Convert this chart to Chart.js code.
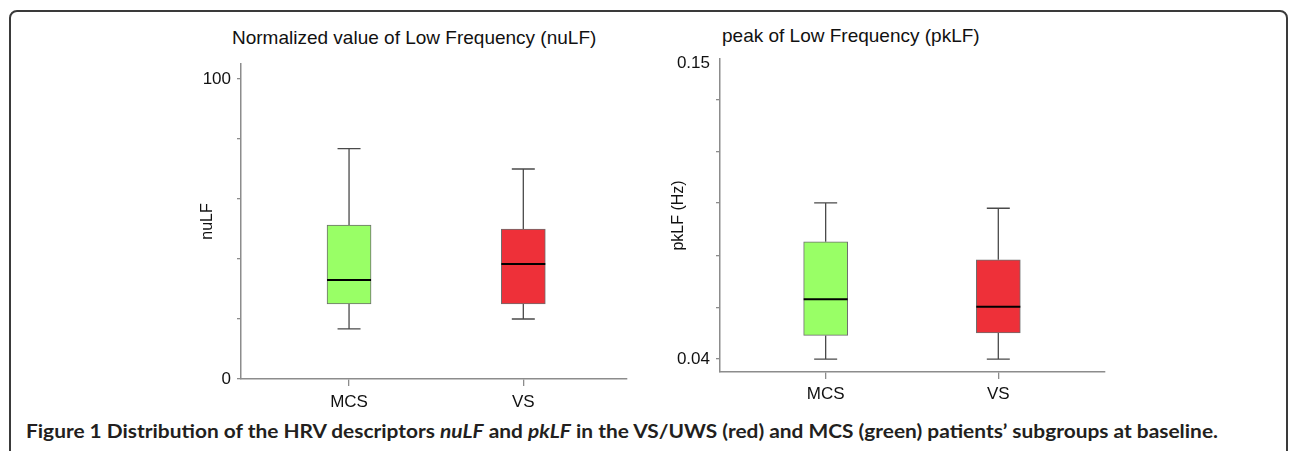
<!DOCTYPE html>
<html>
<head>
<meta charset="utf-8">
<script src="https://cdn.jsdelivr.net/npm/chart.js@4.4.1/dist/chart.umd.min.js"></script>
<style>
  body { margin: 0; width: 1290px; height: 451px; background: #fff; position: relative; overflow: hidden; font-family: "Liberation Sans", Arial, sans-serif; }
  .frame { position: absolute; left: 9px; top: 10px; width: 1279px; height: 480px; border: 2px solid #3a3a3a; border-radius: 8px; box-sizing: border-box; }
  .title { position: absolute; font-size: 19px; color: #111; white-space: nowrap; }
  .chart-box { position: absolute; width: 460px; height: 400px; }
  #caption { position: absolute; left: 26px; top: 420px; font-family: Lato, sans-serif; font-weight: bold; font-size: 18px; white-space: nowrap; transform-origin: 0 0; color: #231f20; }
</style>
</head>
<body>
<div class="frame"></div>
<div class="title" style="left:232px;top:27px;">Normalized value of Low Frequency (nuLF)</div>
<div class="title" style="left:722px;top:25px;">peak of Low Frequency (pkLF)</div>
<div class="chart-box" style="left:180px;top:20px;"><canvas id="nulfChart"></canvas></div>
<div class="chart-box" style="left:660px;top:20px;"><canvas id="pklfChart"></canvas></div>
<div id="caption">Figure 1 Distribution of the HRV descriptors <i>nuLF</i> and <i>pkLF</i> in the VS/UWS (red) and MCS (green) patients’ subgroups at baseline.</div>

<script>
const groups = ["MCS", "VS"];
const groupPos = [1, 2];
const boxColors = ["#99ff66", "#ee3039"];

// nuLF box stats
const nulfMin = [16.7, 20];
const nulfQ1 = [25, 25];
const nulfMed = [33, 38.3];
const nulfQ3 = [51.3, 50];
const nulfMax = [76.8, 70];
const nulfTicks = [0, 20, 40, 60, 80, 100];
const nulfTickLabels = ["0", "", "", "", "", "100"];

// pkLF box stats
const pklfMin = [0.04, 0.04];
const pklfQ1 = [0.0488, 0.0497];
const pklfMed = [0.0623, 0.0595];
const pklfQ3 = [0.0836, 0.0769];
const pklfMax = [0.0981, 0.0961];
const pklfTicks = [0.04, 0.0593, 0.0786, 0.098, 0.1173, 0.1366, 0.15];
const pklfTickLabels = ["0.04", "", "", "", "", "", "0.15"];

const axisColor = "#8c8c8c";
const fontFamily = "'Liberation Sans', Arial, sans-serif";

// whiskers behind the boxes, medians on top
const boxPlotPlugin = {
    id: "boxplot",
    beforeDatasetsDraw(chart) {
        const o = chart.options.plugins.boxplot;
        const { ctx, scales: { x, y } } = chart;
        ctx.save();
        ctx.strokeStyle = "#4a4a4a";
        ctx.lineWidth = 1.3;
        groupPos.forEach((p, i) => {
            const cx = x.getPixelForValue(p);
            const half = o.capWidth / 2;
            ctx.beginPath();
            ctx.moveTo(cx, y.getPixelForValue(o.max[i]));
            ctx.lineTo(cx, y.getPixelForValue(o.q3[i]));
            ctx.moveTo(cx, y.getPixelForValue(o.q1[i]));
            ctx.lineTo(cx, y.getPixelForValue(o.min[i]));
            ctx.moveTo(cx - half, y.getPixelForValue(o.max[i]));
            ctx.lineTo(cx + half, y.getPixelForValue(o.max[i]));
            ctx.moveTo(cx - half, y.getPixelForValue(o.min[i]));
            ctx.lineTo(cx + half, y.getPixelForValue(o.min[i]));
            ctx.stroke();
        });
        ctx.restore();
    },
    afterDatasetsDraw(chart) {
        const o = chart.options.plugins.boxplot;
        const { ctx, scales: { x, y } } = chart;
        ctx.save();
        ctx.strokeStyle = "#000";
        ctx.lineWidth = 2;
        groupPos.forEach((p, i) => {
            const cx = x.getPixelForValue(p);
            const my = y.getPixelForValue(o.med[i]);
            ctx.beginPath();
            ctx.moveTo(cx - o.boxWidth / 2, my);
            ctx.lineTo(cx + o.boxWidth / 2, my);
            ctx.stroke();
        });
        ctx.restore();
    }
};

function makeBoxChart(id, cfg) {
    const ctx = document.getElementById(id).getContext("2d");
    return new Chart(ctx, {
        type: "bar",
        data: {
            datasets: [{
                data: groupPos.map((p, i) => ({ x: p, y: [cfg.q1[i], cfg.q3[i]] })),
                backgroundColor: boxColors,
                borderColor: "#6e6e6e",
                borderWidth: 1,
                borderSkipped: false,
                barThickness: 44
            }]
        },
        options: {
            responsive: true,
            maintainAspectRatio: false,
            animation: false,
            layout: { padding: cfg.padding },
            plugins: {
                legend: { display: false },
                tooltip: { enabled: false },
                boxplot: {
                    min: cfg.min, q1: cfg.q1, med: cfg.med, q3: cfg.q3, max: cfg.max,
                    boxWidth: 44, capWidth: 23
                }
            },
            scales: {
                x: {
                    type: "linear",
                    offset: false,
                    min: cfg.xMin,
                    max: cfg.xMax,
                    afterBuildTicks: s => { s.ticks = groupPos.map(v => ({ value: v })); },
                    afterFit: s => { s.height = cfg.xHeight; },
                    ticks: {
                        callback: (v, i) => groups[i],
                        autoSkip: false,
                        maxRotation: 0,
                        padding: cfg.xPad,
                        color: "#111",
                        font: { family: fontFamily, size: 17 }
                    },
                    grid: { offset: false, drawOnChartArea: false, tickLength: 7, color: axisColor, lineWidth: 1.3 },
                    border: { color: axisColor, width: 1.5 }
                },
                y: {
                    type: "linear",
                    min: cfg.yMin,
                    max: cfg.yMax,
                    afterBuildTicks: s => { s.ticks = cfg.ticks.map(v => ({ value: v })); },
                    afterFit: s => { s.width = cfg.yWidth; },
                    ticks: {
                        callback: (v, i) => cfg.labels[i],
                        autoSkip: false,
                        padding: 6,
                        color: "#111",
                        font: { family: fontFamily, size: 17 }
                    },
                    grid: {
                        drawOnChartArea: false,
                        tickLength: 4,
                        lineWidth: 1.3,
                        color: axisColor,
                        tickColor: c => (c.tick && c.tick.value === 0.15) ? "rgba(0,0,0,0)" : axisColor
                    },
                    border: { color: axisColor, width: 1.5 },
                    title: {
                        display: true,
                        text: cfg.yTitle,
                        color: "#111",
                        font: { family: fontFamily, size: 16 },
                        padding: { top: cfg.titlePad, bottom: 0 }
                    }
                }
            }
        },
        plugins: [boxPlotPlugin]
    });
}

makeBoxChart("nulfChart", {
    min: nulfMin, q1: nulfQ1, med: nulfMed, q3: nulfQ3, max: nulfMax,
    ticks: nulfTicks, labels: nulfTickLabels,
    yMin: 0, yMax: 105, xMin: 0.38, xMax: 2.595,
    padding: { left: 0, right: 13, top: 44, bottom: 0 },
    xHeight: 41, yWidth: 61, xPad: 6, titlePad: 17.5,
    yTitle: "nuLF"
});

makeBoxChart("pklfChart", {
    min: pklfMin, q1: pklfQ1, med: pklfMed, q3: pklfQ3, max: pklfMax,
    ticks: pklfTicks, labels: pklfTickLabels,
    yMin: 0.0352, yMax: 0.1516, xMin: 0.388, xMax: 2.618,
    padding: { left: 0, right: 15, top: 39, bottom: 0 },
    xHeight: 48, yWidth: 60, xPad: 5, titlePad: 9,
    yTitle: "pkLF (Hz)"
});

// squeeze the caption to the width it has in the figure
const cap = document.getElementById("caption");
const w = cap.getBoundingClientRect().width;
cap.style.transform = "scaleX(" + (1192 / w) + ")";
</script>
</body>
</html>
